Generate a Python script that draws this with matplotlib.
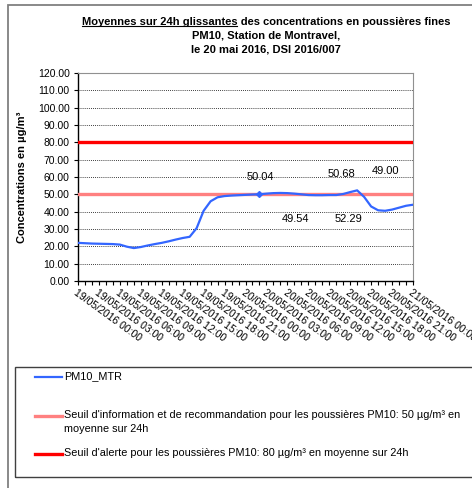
import matplotlib
matplotlib.use("Agg")
import matplotlib.pyplot as plt
from matplotlib.lines import Line2D
from matplotlib.patches import Rectangle
import numpy as np

plt.rcParams['font.family'] = ['Liberation Sans', 'DejaVu Sans']

# hourly rolling 24h means, 19/05/2016 00:00 -> 21/05/2016 00:00
hours = np.arange(49)
pm10_mtr = [22.0, 21.8, 21.6, 21.5, 21.4, 21.3, 21.0, 19.8, 19.0, 19.6,
            20.5, 21.3, 22.0, 22.9, 23.9, 24.8, 25.5, 30.5, 40.5, 46.0,
            48.3, 49.0, 49.3, 49.5, 49.7, 49.9, 50.04, 50.4, 50.7, 50.8,
            50.7, 50.4, 50.0, 49.6, 49.5, 49.5, 49.6, 49.6, 50.2, 51.3,
            52.29, 48.5, 43.0, 40.8, 40.5, 41.2, 42.3, 43.4, 44.0]
seuil_info = 50
seuil_alerte = 80

tick_hours = list(range(0, 49, 3))
tick_labels = ["19/05/2016 00:00", "19/05/2016 03:00", "19/05/2016 06:00",
               "19/05/2016 09:00", "19/05/2016 12:00", "19/05/2016 15:00",
               "19/05/2016 18:00", "19/05/2016 21:00", "20/05/2016 00:00",
               "20/05/2016 03:00", "20/05/2016 06:00", "20/05/2016 09:00",
               "20/05/2016 12:00", "20/05/2016 15:00", "20/05/2016 18:00",
               "20/05/2016 21:00", "21/05/2016 00:00"]

# value labels shown on the chart (hour, y position, text)
label_hours = [26.1, 31.1, 37.7, 38.8, 44.1]
label_y = [60.2, 35.6, 61.6, 35.6, 63.6]
label_text = ["50.04", "49.54", "50.68", "52.29", "49.00"]
marker_hour = 26

blue = "#3366ff"
pink = "#ff8080"
red = "#ff0000"

W, H = 472, 488
fig = plt.figure(figsize=(W / 100, H / 100), dpi=100)

# outer chart frame
fig.add_artist(Rectangle((8 / W, -0.05), 1.2, 1 - 5 / H + 0.05, transform=fig.transFigure,
                         fill=False, edgecolor="#808080", linewidth=1.3))

ax = fig.add_axes([78 / W, 1 - 281 / H, 335 / W, 208 / H])
ax.plot(hours, pm10_mtr, color=blue, linewidth=1.6, zorder=4)
ax.axhline(seuil_info, color=pink, linewidth=2.4, zorder=3)
ax.axhline(seuil_alerte, color=red, linewidth=2.4, zorder=3)
ax.plot([marker_hour], [pm10_mtr[marker_hour]], marker="D", markersize=3,
        color=blue, zorder=5)

for xh, yv, t in zip(label_hours, label_y, label_text):
    ax.text(xh, yv, t, ha="center", va="center", fontsize=8)

ax.set_xlim(0, 48)
ax.set_ylim(0, 120)
ax.set_yticks(np.arange(0, 121, 10))
ax.set_yticklabels(["%.2f" % v for v in np.arange(0, 121, 10)], fontsize=7.5)
ax.set_xticks(tick_hours)
ax.set_xticklabels(tick_labels, rotation=-36, ha="left", va="top",
                   rotation_mode="anchor", fontsize=7.5)
ax.set_xticks(hours, minor=True)
ax.tick_params(axis="x", which="both", direction="out", length=3, width=0.8, pad=2)
ax.tick_params(axis="y", direction="out", length=3, width=0.8, pad=3)
ax.grid(axis="y", color="black", linestyle=(0, (1, 1.5)), linewidth=0.6)
ax.set_axisbelow(True)
for s in ["top", "right"]:
    ax.spines[s].set_color("#909090")
ax.spines["left"].set_linewidth(1.0)
ax.spines["bottom"].set_linewidth(1.0)

ax.set_ylabel("Concentrations en µg/m³", fontsize=8, fontweight="bold", labelpad=8)

# title
t1 = fig.text(266 / W, 1 - 22 / H,
              "Moyennes sur 24h glissantes des concentrations en poussières fines",
              ha="center", va="center", fontsize=8, fontweight="bold")
fig.text(266 / W, 1 - 36 / H, "PM10, Station de Montravel,",
         ha="center", va="center", fontsize=8, fontweight="bold")
fig.text(266 / W, 1 - 50 / H, "le 20 mai 2016, DSI 2016/007",
         ha="center", va="center", fontsize=8, fontweight="bold")

fig.canvas.draw()
r = fig.canvas.get_renderer()
bb = t1.get_window_extent(r)
tmp = fig.text(0, 0, "Moyennes sur 24h glissantes", fontsize=8, fontweight="bold")
pw = tmp.get_window_extent(r).width
tmp.remove()
uy = (bb.y0 + 1) / H
fig.add_artist(Line2D([bb.x0 / W, (bb.x0 + pw) / W], [uy, uy], transform=fig.transFigure,
                      color="black", linewidth=0.8))

# legend box
fig.add_artist(Rectangle((15 / W, 1 - 477 / H), 1.0, 110 / H, transform=fig.transFigure,
                         fill=False, edgecolor="#404040", linewidth=1.0))
leg = [(blue, 1.6, 377, "PM10_MTR"),
       (pink, 2.4, 416, "Seuil d'information et de recommandation pour les poussières PM10: 50 µg/m³ en\nmoyenne sur 24h"),
       (red, 2.4, 454, "Seuil d'alerte pour les poussières PM10: 80 µg/m³ en moyenne sur 24h")]
for c, lw, yp, txt in leg:
    fig.add_artist(Line2D([35 / W, 62 / W], [1 - yp / H, 1 - yp / H], transform=fig.transFigure,
                          color=c, linewidth=lw))
    fig.text(64 / W, 1 - (yp - 5.5) / H, txt, ha="left", va="top", fontsize=7.8,
             linespacing=1.4)

fig.savefig("out.png", dpi=100)
